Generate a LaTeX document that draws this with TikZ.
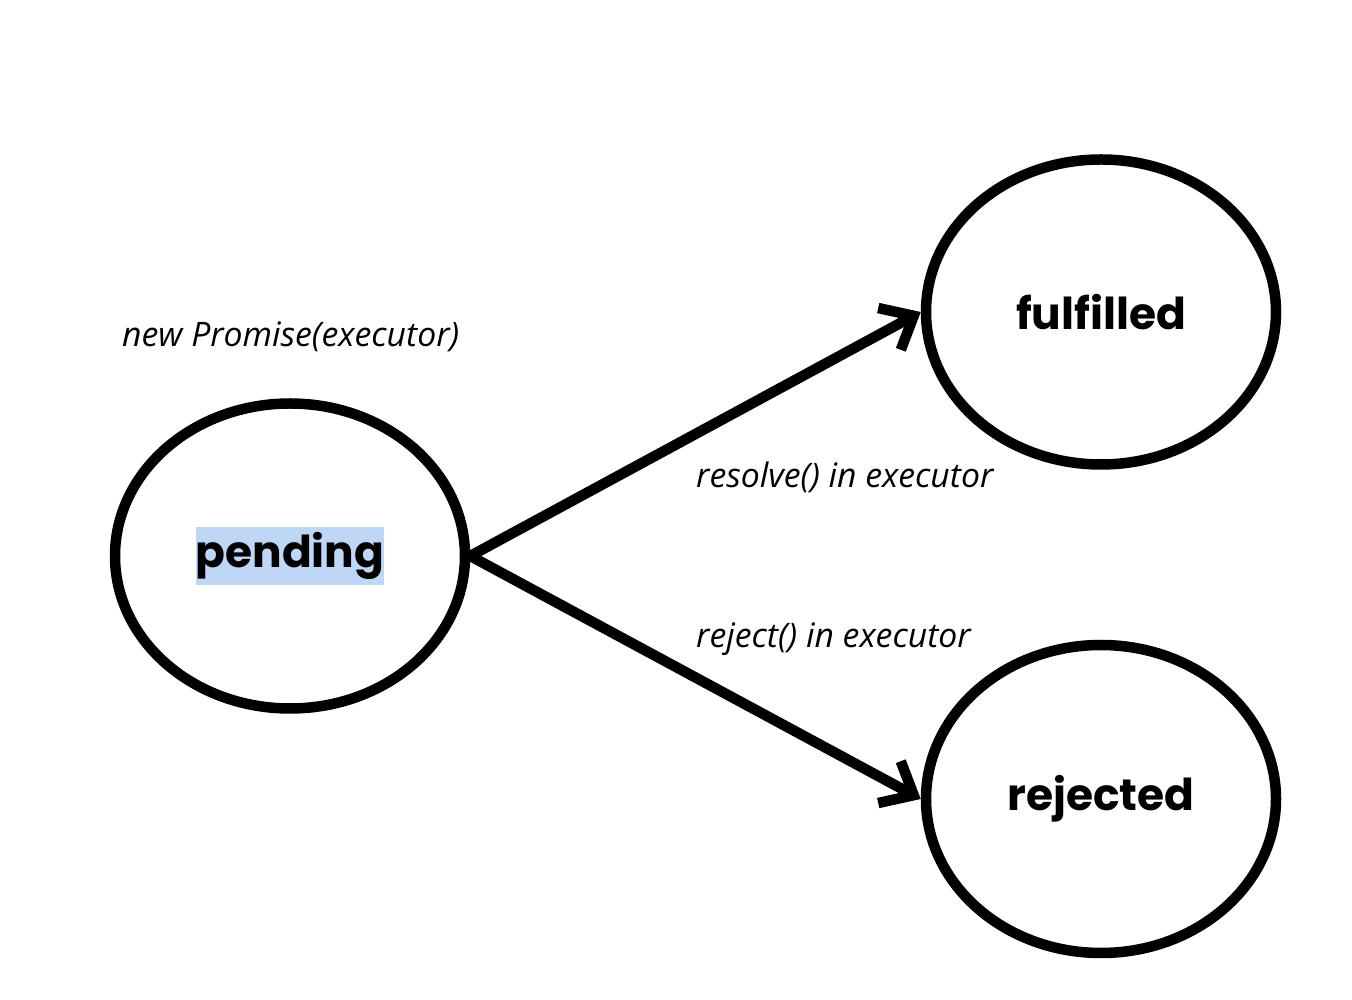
\documentclass[tikz,border=0pt]{standalone}
\usepackage{fontspec}
\usepackage{tikz}
\usetikzlibrary{shapes.geometric}
\usetikzlibrary{arrows.meta}
\usepackage{xcolor}

\newfontfamily\statefont{Poppins}[UprightFont=* Bold]
\newfontfamily\labelfont{Open Sans}
\definecolor{selblue}{RGB}{191,215,246}

\begin{document}
\begin{tikzpicture}[
    state/.style = {draw, ellipse, line width = 0.21cm, inner sep = 0pt,
                    minimum width = 7.0cm, minimum height = 6.1cm,
                    font = \statefont\fontsize{25}{29}\selectfont},
    trans/.style = {line width = 0.21cm,
                    -{Straight Barb[length = 5.5mm, width = 9.5mm, line join = miter]}},
    note/.style = {font = \labelfont\itshape\fontsize{19.2}{23}\selectfont}
]
    \useasboundingbox (0,0) rectangle (27.04,20);

    \node[state] (pending) at (5.8,8.88) {};
    \node[fill = selblue, inner xsep = 0pt, inner ysep = 3pt,
          font = \statefont\fontsize{25}{29}\selectfont] (pendtext) at (pending.center) {pending};
    \node[state] (fulfilled) at (22.02,13.76) {fulfilled};
    \node[state, minimum height = 6.16cm] (rejected) at (22.02,4.02) {rejected};

    \draw[trans] (pending.east) -- (fulfilled.west);
    \draw[trans] (pending.east) -- (rejected.west);

    \node[note, anchor = west] (create) at (2.32,13.26) {new Promise(executor)};
    \node[note, anchor = west] (resolvelbl) at (13.8,10.45) {resolve() in executor};
    \node[note, anchor = west] (rejectlbl) at (13.8,7.22) {reject() in executor};

\end{tikzpicture}
\end{document}
